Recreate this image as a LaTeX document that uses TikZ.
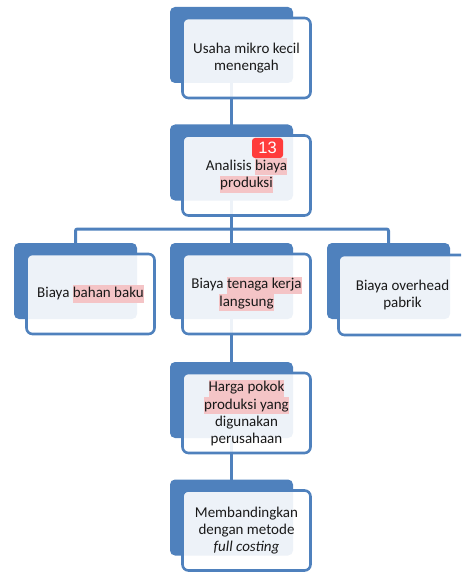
\documentclass[tikz,border=0pt]{standalone}
\usepackage{fontspec}
\setmainfont{Carlito}
\newfontfamily\badgefont{Liberation Sans}
\usetikzlibrary{positioning}
\definecolor{oblue}{RGB}{79,129,189}
\definecolor{hlpink}{RGB}{244,196,198}
\definecolor{badgered}{RGB}{255,59,59}
\definecolor{txt}{RGB}{25,25,25}
\newcommand\hlt[1]{{\setlength{\fboxsep}{0pt}\colorbox{hlpink}{\strut #1}}}
\pgfdeclarelayer{background}
\pgfsetlayers{background,main}
\tikzset{
  backbox/.style={fill=oblue, rounded corners=5pt, minimum width=123pt, minimum height=76pt, inner sep=0pt},
  frontbox/.style={draw=oblue, line width=2.6pt, fill=white, fill opacity=0.9, text opacity=1,
    rounded corners=6pt, minimum width=128pt, minimum height=80pt, inner sep=2pt,
    align=center, text=txt, font={\fontsize{15}{17.3}\selectfont}},
  conn/.style={draw=oblue, line width=3pt, rounded corners=2pt},
  badge/.style={fill=badgered, rounded corners=3pt, minimum width=31pt, minimum height=20pt,
    inner sep=0pt, text=white, font={\badgefont\fontsize{16.5}{16.5}\selectfont}}
}
\begin{document}
\begin{tikzpicture}[x=1pt,y=-1pt]
\useasboundingbox (0,0) rectangle (461,572);
\clip (0,0) rectangle (461,572);
% back boxes
\node[backbox] (b1) at (231.5,45) {};
\node[backbox] (b2) at (231.5,162.5) {};
\node[backbox] (b3) at (75.5,281) {};
\node[backbox] (b4) at (231.5,281) {};
\node[backbox] (b5) at (388.5,281) {};
\node[backbox] (b6) at (231.5,400) {};
\node[backbox] (b7) at (231.5,517.5) {};
\coordinate (bar) at (231.5,229);
% connectors
\begin{pgfonlayer}{background}
\draw[conn] (b1.center) -- (b2.center);
\draw[conn] (b2.center) -- (bar);
\draw[conn] (b3.center) |- (bar) -| (b5.center);
\draw[conn] (bar) -- (b4.center);
\draw[conn] (b4.center) -- (b6.center);
\draw[conn] (b6.center) -- (b7.center);
\end{pgfonlayer}
% front boxes
\node[frontbox] (f1) at (246.5,58) {Usaha mikro kecil\\menengah};
\node[frontbox] (f2) at (246.5,175.5) {Analisis \hlt{biaya}\\\hlt{produksi}};
\node[frontbox] (f3) at (90.5,294) {Biaya \hlt{bahan baku}};
\node[frontbox] (f4) at (246.5,294) {Biaya \hlt{tenaga kerja}\\\hlt{langsung}};
\node[frontbox] (f5) at (402.5,295) {Biaya overhead\\pabrik};
\node[frontbox] (f6) at (246.5,413) {\hlt{Harga pokok}\\\hlt{produksi yang}\\digunakan\\perusahaan};
\node[frontbox] (f7) at (246.5,530.5) {Membandingkan\\dengan metode\\\textit{full costing}};
\node[badge] (n13) at (267.5,148) {13};
\end{tikzpicture}
\end{document}
